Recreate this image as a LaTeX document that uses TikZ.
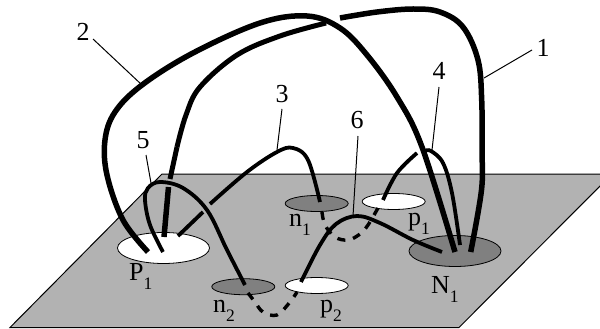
\documentclass[tikz,border=0pt]{standalone}
\usepackage{fontspec}
\setmainfont{Liberation Serif}
\usetikzlibrary{shapes.geometric}
\newcommand\sublab[2]{#1\raisebox{-0.36em}{\fontsize{17.5}{17.5}\selectfont #2}}
\definecolor{planegray}{HTML}{B2B2B2}
\definecolor{wellgray}{HTML}{808080}
\tikzset{
  lab/.style={inner sep=0pt,font=\fontsize{26}{26}\selectfont},
  sublabel/.style={lab,anchor=base west},
  leader/.style={line width=1pt},
  wire/.style={line width=3.8pt,line cap=butt},
  thickwire/.style={line width=5.5pt,line cap=butt},
  hidden/.style={line width=3.4pt,dash pattern=on 8pt off 8pt},
  well/.style={ellipse,draw,line width=0.8pt,inner sep=0pt},
  big/.style={well,minimum width=92pt,minimum height=31pt},
  small/.style={well,minimum width=63pt,minimum height=16pt}
}
\begin{document}
\begin{tikzpicture}[x=1pt,y=-1pt]
\useasboundingbox (0,0) rectangle (600,329);
\clip (0,0) rectangle (600,329);
\draw[fill=planegray,line width=1pt] (162,174) -- (612,174) -- (459,327.5) -- (10,327.5) -- cycle;
\node[big,fill=white] (P1) at (163.5,248) {};
\node[big,fill=wellgray] (N1) at (455,251) {};
\node[small,fill=wellgray] (n1) at (316.7,203.5) {};
\node[small,fill=white] (p1) at (393.7,201.5) {};
\node[small,fill=wellgray] (n2) at (243.3,286.7) {};
\node[small,fill=white] (p2) at (316.7,285.5) {};
% labels
\node[lab] (L1) at (543,48) {1};
\node[lab] (L2) at (83,32) {2};
\node[lab] (L3) at (282,94) {3};
\node[lab] (L4) at (439,71) {4};
\node[lab] (L5) at (143,140) {5};
\node[lab] (L6) at (357,120) {6};
\node[sublabel] (tP1) at (129,280) {\sublab{P}{1}};
\node[sublabel] (tN1) at (431,293) {\sublab{N}{1}};
\node[sublabel] (tn1) at (289,226) {\sublab{n}{1}};
\node[sublabel] (tp1) at (408,225) {\sublab{p}{1}};
\node[sublabel] (tn2) at (213,312) {\sublab{n}{2}};
\node[sublabel] (tp2) at (320,312) {\sublab{p}{2}};
% leader ends
\coordinate (e1) at (484,78);
\coordinate (e2) at (142,85);
\coordinate (e3) at (277,150);
\coordinate (e4) at (432,150);
\coordinate (e5) at (151,183);
\coordinate (e6) at (353,216);
\draw[leader] (532,50) -- (e1);
\draw[leader] (93,39) -- (e2);
\draw[leader] (282,109) -- (e3);
\draw[leader] (439,87) -- (e4);
\draw[leader] (146,155) -- (e5);
\draw[leader] (358,136) -- (e6);
% wires
\draw[thickwire] plot[smooth,tension=0.6] coordinates {(470.7,252) (481.5,190) (482,150) (481.7,100) (478,60) (463,27) (440,12) (413,9) (377,12) (340,18)};
\draw[thickwire] plot[smooth,tension=0.6] coordinates {(148,252) (123,220) (107,175) (105,140) (115,112) (142,85) (193,53) (260,23) (307,16) (340,28) (367,55) (397,97) (422,147) (455,252)};
\draw[thickwire,line width=5pt] plot[smooth,tension=0.6] coordinates {(177,147) (186,115) (200,87) (237,55) (280,36) (326,23)};
\draw[thickwire,line width=5pt] (177,147) -- (170,179);
\draw[thickwire] (168.5,187) -- (164,237);
\draw[wire] (178,236) -- (203,212);
\draw[wire] plot[smooth,tension=0.6] coordinates {(210,204) (247,172) (277,152) (293,148) (308,160) (320,202)};
\draw[wire] plot[smooth,tension=0.6] coordinates {(163,252) (150,225) (145,200) (148,188) (160,182) (183,188) (207,210) (227,250) (245,285)};
\draw[wire] plot[smooth,tension=0.6] coordinates {(383,200) (397,173) (417,153)};
\draw[wire] plot[smooth,tension=0.6] coordinates {(425,151) (431,151) (443,163) (452,193) (460,245)};
\draw[wire] plot[smooth,tension=0.6] coordinates {(301,282) (320,245) (336,224) (357,216) (380,223) (413,240) (442,252)};
\draw[hidden] plot[smooth,tension=0.6] coordinates {(322,212) (325,225) (335,237) (348,240) (360,234) (368,225) (378,208)};
\draw[hidden] plot[smooth,tension=0.6] coordinates {(248,293) (255,302) (263,312) (277,315) (290,302) (297,292)};
\end{tikzpicture}
\end{document}
